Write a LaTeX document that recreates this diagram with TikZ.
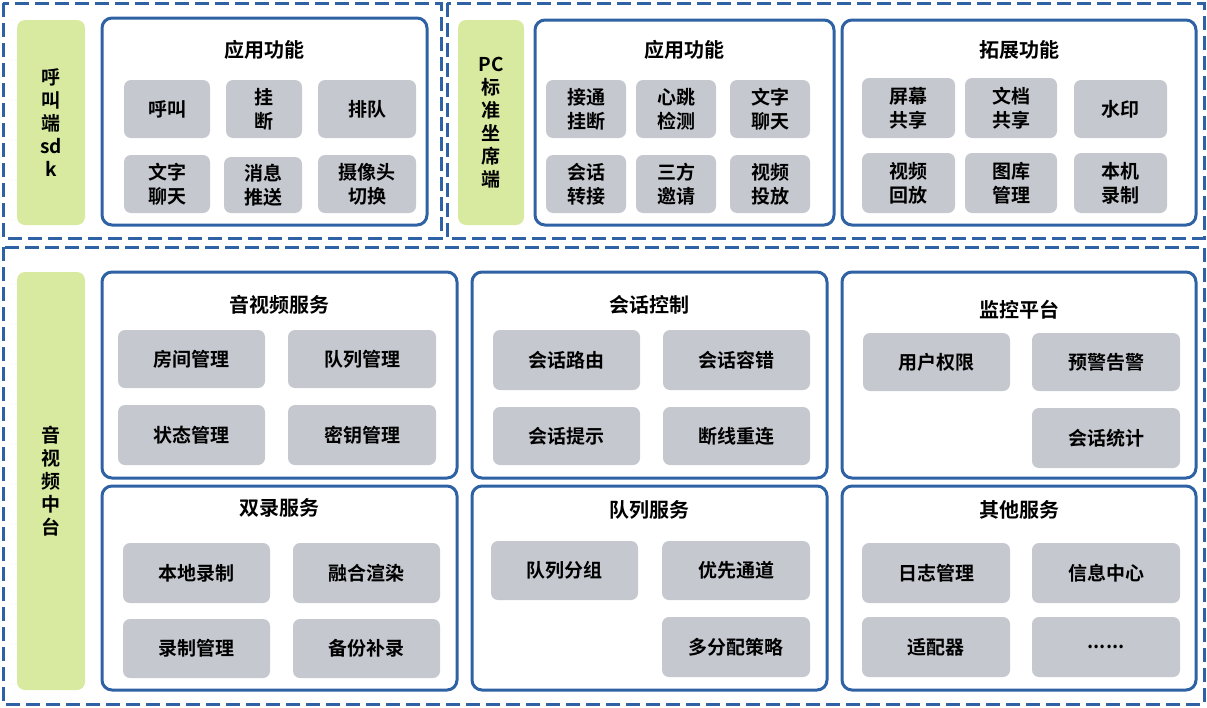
\documentclass[tikz,border=0pt]{standalone}
\usepackage{fontspec}
\newfontfamily\cjk{Noto Sans CJK SC}[BoldFont={* Bold}]
\definecolor{bl}{HTML}{2E62A4}
\definecolor{gr}{HTML}{D7EAA0}
\definecolor{gy}{HTML}{C5C9CF}
\tikzset{
 outerbox/.style={draw=bl,line width=3pt,dash pattern=on 14pt off 6pt},
 greenbox/.style={fill=gr,rounded corners=8pt,font=\cjk\bfseries\fontsize{19}{23}\selectfont,align=center},
 contbox/.style={draw=bl,line width=3pt,rounded corners=10pt,fill=white},
 itembox/.style={fill=gy,rounded corners=7pt,font=\cjk\bfseries\fontsize{19}{24}\selectfont,align=center,inner sep=0pt},
 ttl/.style={font=\cjk\bfseries\fontsize{20}{24}\selectfont}
}
\newcommand\itm[7]{\node[#1,minimum width={(#5-#3)*1pt},minimum height={(#6-#4)*1pt}] (#2) at ({(#3+#5)/2},{(#4+#6)/2}) {#7};}
\newcommand\cont[7]{\draw[contbox] (#2,#3) rectangle (#4,#5); \node[ttl] (#1) at ({(#2+#4)/2},#6) {#7};}
\begin{document}
\begin{tikzpicture}[x=1pt,y=-1pt]
\useasboundingbox (0,0) rectangle (1207,707);
\draw[outerbox] (3,3) rectangle (441,238);
\draw[outerbox] (447,3) rectangle (1204,238);
\draw[outerbox] (3,247) rectangle (1204,704);
\itm{greenbox}{g1}{17}{20}{85}{225}{呼\\叫\\端\\sd\\k}
\itm{greenbox}{g2}{458}{20}{524}{225}{PC\\标\\准\\坐\\席\\端}
\itm{greenbox}{g3}{17}{272}{85}{690}{音\\视\\频\\中\\台}
\cont{c1}{102}{18}{427}{225}{50}{应用功能}
\cont{c2}{535}{20}{834}{225}{50}{应用功能}
\cont{c3}{842}{20}{1196}{225}{50}{拓展功能}
\cont{c4}{102}{272}{457}{478}{305}{音视频服务}
\cont{c5}{472}{272}{827}{478}{305}{会话控制}
\cont{c6}{842}{272}{1196}{478}{310}{监控平台}
\cont{c7}{102}{486}{457}{690}{508}{双录服务}
\cont{c8}{472}{486}{827}{690}{510}{队列服务}
\cont{c9}{842}{486}{1196}{690}{510}{其他服务}
\itm{itembox}{a1}{124}{80}{210}{138}{呼叫}
\itm{itembox}{a2}{226}{80}{302}{138}{挂\\断}
\itm{itembox}{a3}{318}{80}{416}{138}{排队}
\itm{itembox}{a4}{124}{155}{210}{213}{文字\\聊天}
\itm{itembox}{a5}{224}{157}{302}{213}{消息\\推送}
\itm{itembox}{a6}{318}{155}{416}{213}{摄像头\\切换}
\itm{itembox}{b1}{546}{80}{626}{138}{接通\\挂断}
\itm{itembox}{b2}{636}{80}{716}{138}{心跳\\检测}
\itm{itembox}{b3}{730}{80}{810}{138}{文字\\聊天}
\itm{itembox}{b4}{546}{155}{626}{213}{会话\\转接}
\itm{itembox}{b5}{636}{155}{716}{213}{三方\\邀请}
\itm{itembox}{b6}{730}{155}{810}{213}{视频\\投放}
\itm{itembox}{d1}{862}{78}{955}{138}{屏幕\\共享}
\itm{itembox}{d2}{965}{78}{1057}{138}{文档\\共享}
\itm{itembox}{d3}{1074}{80}{1167}{138}{水印}
\itm{itembox}{d4}{862}{153}{955}{213}{视频\\回放}
\itm{itembox}{d5}{965}{153}{1057}{213}{图库\\管理}
\itm{itembox}{d6}{1074}{153}{1167}{213}{本机\\录制}
\itm{itembox}{e1}{118}{330}{265}{388}{房间管理}
\itm{itembox}{e2}{288}{330}{436}{388}{队列管理}
\itm{itembox}{e3}{118}{405}{265}{465}{状态管理}
\itm{itembox}{e4}{288}{405}{436}{465}{密钥管理}
\itm{itembox}{f1}{493}{330}{640}{390}{会话路由}
\itm{itembox}{f2}{663}{330}{810}{390}{会话容错}
\itm{itembox}{f3}{493}{407}{640}{465}{会话提示}
\itm{itembox}{f4}{663}{407}{810}{465}{断线重连}
\itm{itembox}{h1}{863}{333}{1010}{391}{用户权限}
\itm{itembox}{h2}{1032}{333}{1180}{391}{预警告警}
\itm{itembox}{h3}{1032}{408}{1180}{468}{会话统计}
\itm{itembox}{i1}{123}{543}{270}{603}{本地录制}
\itm{itembox}{i2}{293}{543}{440}{603}{融合渲染}
\itm{itembox}{i3}{123}{619}{270}{678}{录制管理}
\itm{itembox}{i4}{293}{619}{440}{678}{备份补录}
\itm{itembox}{j1}{491}{541}{638}{600}{队列分组}
\itm{itembox}{j2}{662}{541}{810}{600}{优先通道}
\itm{itembox}{j3}{662}{617}{810}{677}{多分配策略}
\itm{itembox}{k1}{862}{543}{1010}{603}{日志管理}
\itm{itembox}{k2}{1032}{543}{1180}{603}{信息中心}
\itm{itembox}{k3}{862}{617}{1010}{677}{适配器}
\itm{itembox}{k4}{1032}{617}{1180}{677}{......}
\end{tikzpicture}
\end{document}
